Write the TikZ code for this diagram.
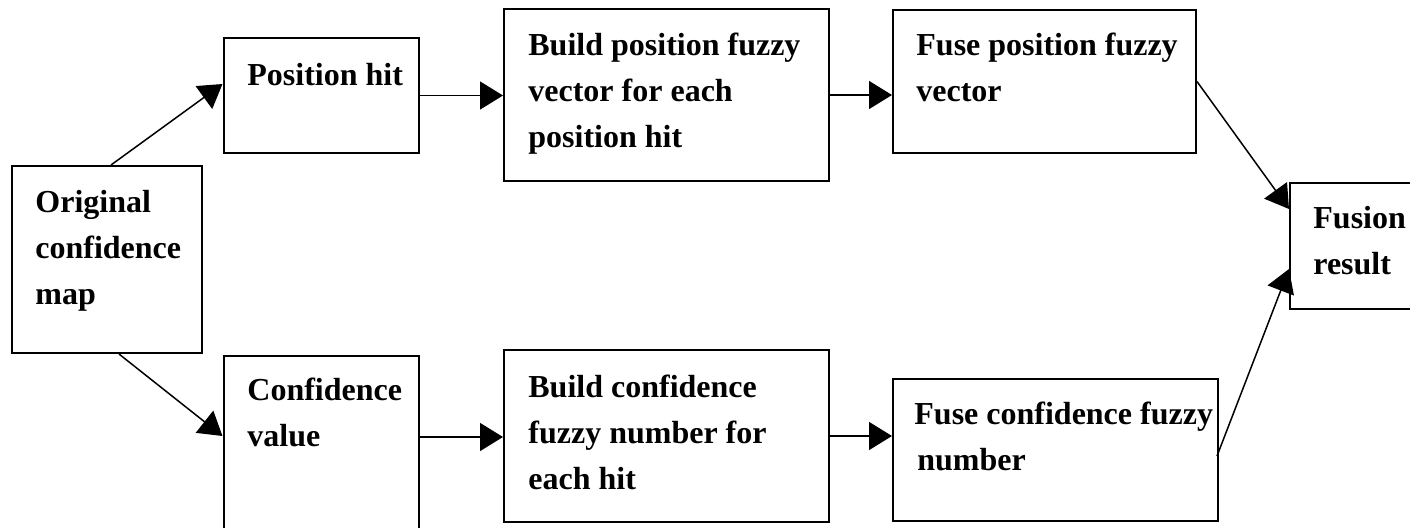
\documentclass[tikz,border=0pt]{standalone}
\usepackage{fontspec}
\setmainfont{Liberation Serif}
\usetikzlibrary{arrows.meta}
\begin{document}
\begin{tikzpicture}[x=0.5pt,y=-0.5pt,
  box/.style={draw, line width=1pt, inner sep=0pt, anchor=north west},
  lbl/.style={anchor=base west, inner sep=0pt, align=left,
    font=\fontsize{16}{23}\selectfont\bfseries},
  flow/.style={line width=0.75pt, -{Triangle[length=11.5pt,width=14pt]}}]
\useasboundingbox (0,0) rectangle (1410,527);
\clip (0,0) rectangle (1410,527);

% boxes
\node[box, minimum width=95pt,    minimum height=93.5pt] (orig)    at (11,165)    {};
\node[box, minimum width=97.75pt, minimum height=57.5pt] (poshit)  at (222.5,37)  {};
\node[box, minimum width=97.75pt, minimum height=100pt]  (confval) at (222.5,355) {};
\node[box, minimum width=162.5pt, minimum height=86pt]   (bpos)    at (503,8)     {};
\node[box, minimum width=162.5pt, minimum height=86pt]   (bconf)   at (503,349)   {};
\node[box, minimum width=151.5pt, minimum height=71.5pt] (fpos)    at (892,9)     {};
\node[box, minimum width=162.5pt, minimum height=71pt]   (fconf)   at (892,378)   {};
\node[box, minimum width=100pt,   minimum height=63pt]   (fusion)  at (1289,182)  {};

% labels (placed by the baseline of their last line)
\node[lbl] (t-orig)    at (35,304)   {Original\\confidence\\map};
\node[lbl] (t-poshit)  at (247,85)   {Position hit};
\node[lbl] (t-confval) at (247,446)  {Confidence\\value};
\node[lbl] (t-bpos)    at (528,147)  {Build position fuzzy\\vector for each\\position hit};
\node[lbl] (t-bconf)   at (528,489)  {Build confidence\\fuzzy number for\\each hit};
\node[lbl] (t-fpos)    at (916,101)  {Fuse position fuzzy\\vector};
\node[lbl] (t-fconf)   at (914,470)  {Fuse confidence fuzzy\\\hspace{1.5pt}number};
\node[lbl] (t-fusion)  at (1313,274) {Fusion\\result};

% connectors
\draw[flow] ([xshift=2pt]orig.north) -- ([yshift=5.75pt]poshit.west);
\draw[flow] ([xshift=6pt]orig.south) -- ([yshift=10pt]confval.west);
\draw[flow] (poshit.east) -- (poshit.east -| bpos.west);
\draw[flow] (bpos.east) -- (bpos.east -| fpos.west);
\draw[flow] ([yshift=9.5pt]confval.east) -- ([yshift=9.5pt]confval.east -| bconf.west);
\draw[flow] (bconf.east) -- (bconf.east -| fconf.west);
\draw[flow] (fpos.east) -- ([yshift=18.5pt]fusion.west);
\draw[flow] ([xshift=-1pt,yshift=-3pt]fconf.east) -- ([yshift=-11.5pt]fusion.west);
\end{tikzpicture}
\end{document}
